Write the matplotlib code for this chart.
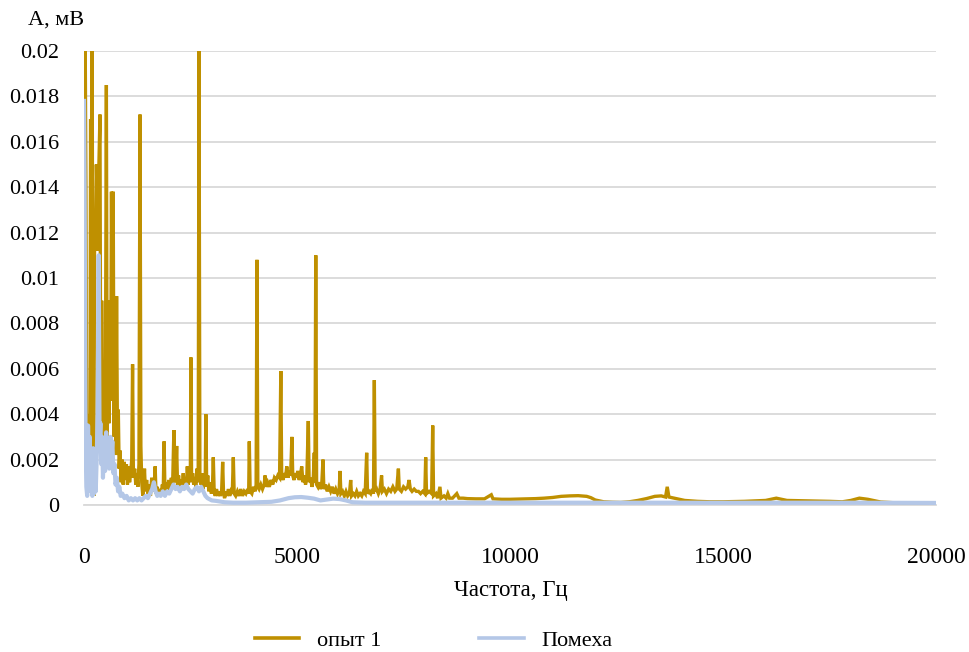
import matplotlib
matplotlib.use("Agg")
import matplotlib.pyplot as plt
from matplotlib.lines import Line2D

# ---- spectrum data ----
freq_exp = [
    0, 25, 45, 60, 80, 100, 120, 140, 155, 170, 190, 210, 230, 250, 270, 290, 310, 330, 350,
    375, 395, 415, 430, 445, 465, 485, 505, 525, 545, 565, 585, 605, 625, 645, 665, 685, 705,
    725, 745, 765, 785, 805, 825, 845, 870, 895, 920, 945, 970, 995, 1020, 1045, 1070, 1095,
    1120, 1140, 1160, 1190, 1215, 1240, 1265, 1290, 1315, 1335, 1355, 1380, 1400, 1420, 1440,
    1470, 1500, 1530, 1560, 1590, 1620, 1650, 1670, 1690, 1720, 1750, 1780, 1810, 1840, 1860,
    1880, 1900, 1930, 1960, 1990, 2020, 2050, 2080, 2110, 2130, 2155, 2175, 2195, 2220, 2250,
    2280, 2310, 2330, 2350, 2380, 2405, 2425, 2445, 2470, 2495, 2510, 2525, 2550, 2575, 2600,
    2625, 2650, 2680, 2700, 2720, 2745, 2770, 2795, 2820, 2845, 2860, 2880, 2905, 2930, 2960,
    2990, 3015, 3035, 3055, 3080, 3110, 3140, 3170, 3200, 3230, 3255, 3275, 3300, 3330, 3360,
    3390, 3420, 3450, 3480, 3505, 3525, 3560, 3600, 3640, 3680, 3720, 3760, 3800, 3840, 3865,
    3880, 3900, 3940, 3980, 4020, 4040, 4060, 4080, 4110, 4150, 4190, 4230, 4250, 4270, 4310,
    4350, 4390, 4430, 4470, 4510, 4550, 4590, 4620, 4640, 4670, 4700, 4730, 4760, 4790, 4820,
    4850, 4880, 4900, 4930, 4960, 4990, 5020, 5050, 5080, 5110, 5140, 5170, 5200, 5230, 5265,
    5285, 5320, 5350, 5380, 5405, 5420, 5440, 5460, 5490, 5520, 5550, 5580, 5610, 5630, 5670,
    5710, 5750, 5790, 5830, 5870, 5910, 5950, 5990, 6010, 6030, 6070, 6110, 6150, 6190, 6230,
    6260, 6280, 6320, 6360, 6400, 6440, 6480, 6520, 6560, 6600, 6635, 6655, 6690, 6730, 6770,
    6795, 6815, 6835, 6870, 6910, 6950, 6985, 7005, 7050, 7100, 7150, 7200, 7250, 7300, 7340,
    7380, 7400, 7450, 7500, 7550, 7600, 7630, 7660, 7700, 7750, 7800, 7850, 7900, 7950, 8000,
    8020, 8040, 8100, 8160, 8185, 8205, 8260, 8300, 8355, 8380, 8450, 8500, 8540, 8580, 8650,
    8750, 8800, 8900, 9000, 9200, 9400, 9560, 9600, 9800, 10000, 10200, 10400, 10600, 10800,
    11000, 11200, 11400, 11600, 11800, 11900, 12000, 12200, 12400, 12600, 12800, 13000, 13200,
    13400, 13550, 13650, 13690, 13730, 13900, 14100, 14400, 14700, 15000, 15500, 16000, 16250,
    16500, 17000, 17500, 17800, 18000, 18200, 18400, 18700, 19000, 19500, 20000,
]
amp_exp = [
    0.0179, 0.0215, 0.0142, 0.0036, 0.0040, 0.0028, 0.0006, 0.0030, 0.0170, 0.0008, 0.0215,
    0.0035, 0.0004, 0.0130, 0.0118, 0.0150, 0.0135, 0.0112, 0.0150, 0.0172, 0.0020, 0.0090,
    0.0048, 0.0012, 0.0056, 0.0030, 0.0065, 0.0185, 0.0026, 0.0080, 0.0036, 0.0090, 0.0046,
    0.0138, 0.0062, 0.0138, 0.0030, 0.0072, 0.0022, 0.0092, 0.0030, 0.0042, 0.0016, 0.0024,
    0.0010, 0.0020, 0.0009, 0.0019, 0.0011, 0.0018, 0.0009, 0.0017, 0.0010, 0.0014, 0.0020,
    0.0062, 0.0012, 0.0016, 0.0009, 0.0014, 0.0008, 0.0018, 0.0172, 0.0026, 0.0010, 0.0004,
    0.0008, 0.0016, 0.0006, 0.0011, 0.0005, 0.0009, 0.0004, 0.0012, 0.0006, 0.0009, 0.0017,
    0.0005, 0.0008, 0.0004, 0.0007, 0.0005, 0.0009, 0.0006, 0.0028, 0.0006, 0.0010, 0.0007,
    0.0011, 0.0006, 0.0012, 0.0009, 0.0033, 0.0010, 0.0014, 0.0026, 0.0009, 0.0013, 0.0008,
    0.0011, 0.0009, 0.0014, 0.0008, 0.0012, 0.0008, 0.0017, 0.0009, 0.0013, 0.0010, 0.0065,
    0.0011, 0.0014, 0.0009, 0.0012, 0.0008, 0.0016, 0.0010, 0.0200, 0.0012, 0.0009, 0.0014,
    0.0007, 0.0012, 0.0009, 0.0040, 0.0008, 0.0013, 0.0006, 0.0010, 0.0005, 0.0008, 0.0021,
    0.0006, 0.0004, 0.0007, 0.0004, 0.0006, 0.0004, 0.0006, 0.0019, 0.0005, 0.0003, 0.0006,
    0.0004, 0.0007, 0.0004, 0.0006, 0.0005, 0.0021, 0.0005, 0.0004, 0.0006, 0.0004, 0.0007,
    0.0004, 0.0006, 0.0005, 0.0007, 0.0005, 0.0028, 0.0006, 0.0005, 0.0008, 0.0006, 0.0009,
    0.0108, 0.0008, 0.0007, 0.0009, 0.0007, 0.0009, 0.0013, 0.0008, 0.0010, 0.0008, 0.0011,
    0.0009, 0.0012, 0.0011, 0.0013, 0.0012, 0.0059, 0.0013, 0.0011, 0.0014, 0.0012, 0.0017,
    0.0012, 0.0015, 0.0013, 0.0030, 0.0013, 0.0011, 0.0014, 0.0012, 0.0015, 0.0011, 0.0013,
    0.0017, 0.0010, 0.0013, 0.0009, 0.0012, 0.0037, 0.0010, 0.0012, 0.0008, 0.0011, 0.0023,
    0.0010, 0.0110, 0.0009, 0.0008, 0.0010, 0.0007, 0.0009, 0.0020, 0.0007, 0.0009, 0.0006,
    0.0008, 0.0006, 0.0008, 0.0005, 0.0007, 0.0005, 0.0007, 0.0015, 0.0005, 0.0006, 0.0004,
    0.0006, 0.0004, 0.0005, 0.0011, 0.0004, 0.0005, 0.0004, 0.0006, 0.0004, 0.0005, 0.0004,
    0.0006, 0.0005, 0.0023, 0.0005, 0.0006, 0.0005, 0.0007, 0.0005, 0.0055, 0.0006, 0.0007,
    0.0005, 0.0007, 0.0013, 0.0006, 0.0007, 0.0005, 0.0007, 0.0006, 0.0008, 0.0006, 0.0007,
    0.0016, 0.0007, 0.0006, 0.0008, 0.0007, 0.0008, 0.0011, 0.0007, 0.0006, 0.0007, 0.0006,
    0.0006, 0.0005, 0.0006, 0.0005, 0.0021, 0.0005, 0.0006, 0.0005, 0.0035, 0.0004, 0.0005,
    0.0003, 0.0008, 0.0003, 0.0004, 0.0003, 0.0005, 0.0003, 0.0003, 0.0005, 0.0003, 0.0003,
    0.00028, 0.00027, 0.00027, 0.00045, 0.00027, 0.00025, 0.00025, 0.00026, 0.00027, 0.00028,
    0.0003, 0.00033, 0.00038, 0.0004, 0.00041, 0.00038, 0.00032, 0.00022, 0.00014, 0.00012,
    0.00011, 0.00014, 0.0002, 0.00028, 0.00038, 0.0004, 0.00035, 0.0008, 0.00035, 0.00028,
    0.0002, 0.00016, 0.00014, 0.00014, 0.00016, 0.0002, 0.0003, 0.0002, 0.00018, 0.00016,
    0.00014, 0.0002, 0.0003, 0.00025, 0.00013, 0.0001, 0.0001, 0.0001,
]

freq_noise = [
    0, 15, 35, 55, 75, 95, 115, 135, 155, 175, 195, 215, 235, 255, 275, 300, 320, 345, 365,
    385, 405, 425, 445, 470, 495, 520, 545, 570, 595, 620, 645, 665, 690, 715, 740, 770, 800,
    830, 860, 900, 950, 1000, 1050, 1100, 1150, 1200, 1250, 1300, 1350, 1400, 1450, 1500,
    1550, 1600, 1640, 1680, 1720, 1760, 1800, 1850, 1900, 1950, 2000, 2050, 2100, 2150, 2200,
    2250, 2300, 2350, 2400, 2450, 2500, 2550, 2600, 2650, 2700, 2750, 2800, 2850, 2900, 3000,
    3100, 3300, 3500, 3800, 4100, 4400, 4600, 4800, 4950, 5100, 5250, 5400, 5550, 5700, 5850,
    6000, 6150, 6300, 6600, 7000, 8000, 9000, 10000, 12000, 14000, 16000, 18000, 20000,
]
amp_noise = [
    0.0178, 0.0140, 0.0031, 0.0008, 0.0004, 0.0035, 0.0012, 0.0030, 0.0006, 0.0020, 0.0004,
    0.0025, 0.0005, 0.0016, 0.0006, 0.0022, 0.0040, 0.0110, 0.0028, 0.0036, 0.0018, 0.0030,
    0.0012, 0.0026, 0.0015, 0.0032, 0.0018, 0.0027, 0.0016, 0.0030, 0.0022, 0.0028, 0.0014,
    0.0018, 0.0009, 0.0012, 0.0006, 0.0008, 0.0004, 0.0005, 0.0003, 0.0004, 0.0002, 0.0003,
    0.0002, 0.0003, 0.0002, 0.0003, 0.0002, 0.0003, 0.0004, 0.0003, 0.0005, 0.0007, 0.0010,
    0.0006, 0.0004, 0.0005, 0.0004, 0.0006, 0.0004, 0.0006, 0.0005, 0.0007, 0.0009, 0.0007,
    0.0008, 0.0006, 0.0008, 0.0007, 0.0009, 0.0007, 0.0006, 0.0005, 0.0007, 0.0008, 0.0006,
    0.0008, 0.0006, 0.0004, 0.0003, 0.0002, 0.00018, 0.00012, 0.0001, 0.0001, 0.00012,
    0.00014, 0.0002, 0.0003, 0.00034, 0.00035, 0.00032, 0.00028, 0.0002, 0.00024, 0.00028,
    0.00026, 0.0002, 0.00012, 0.0001, 0.0001, 0.0001, 0.0001, 0.0001, 0.0001, 0.0001, 0.0001,
    0.0001, 0.00009,
]

series_labels = ["опыт 1", "Помеха"]
x_ticks = [0, 5000, 10000, 15000, 20000]
y_ticks = [0, 0.002, 0.004, 0.006, 0.008, 0.01, 0.012, 0.014, 0.016, 0.018, 0.02]
y_tick_labels = ["0", "0.002", "0.004", "0.006", "0.008", "0.01", "0.012",
                 "0.014", "0.016", "0.018", "0.02"]

# ---- styling ----
plt.rcParams["font.family"] = ["Liberation Serif", "DejaVu Serif"]
color_exp = "#BF9000"
color_noise = "#B4C7E7"
grid_color = "#D9D9D9"
text_color = "#000000"

fig = plt.figure(figsize=(9.7, 6.52), dpi=100)
ax = fig.add_axes([0.0866, 0.2255, 0.8784, 0.6963])

ax.plot(freq_exp, amp_exp, color=color_exp, lw=2.4, solid_joinstyle="miter", zorder=3)
ax.plot(freq_noise, amp_noise, color=color_noise, lw=3.0, zorder=4)

ax.set_xlim(0, 20000)
ax.set_ylim(0, 0.02)
ax.set_xticks(x_ticks)
ax.set_xticklabels([str(t) for t in x_ticks])
ax.set_yticks(y_ticks)
ax.set_yticklabels(y_tick_labels)

ax.tick_params(axis="both", length=0, colors=text_color, labelsize=16)
ax.tick_params(axis="y", pad=18)
ax.tick_params(axis="x", pad=30, labelsize=17)

ax.grid(axis="y", color=grid_color, lw=1.3, zorder=0)
ax.grid(axis="x", visible=False)
for side in ("top", "right", "left"):
    ax.spines[side].set_visible(False)
ax.spines["bottom"].set_color(grid_color)
ax.spines["bottom"].set_linewidth(1.3)
ax.set_axisbelow(True)

fig.text(0.029, 0.969, "А, мВ", fontsize=16, ha="left", va="center", color=text_color)
fig.text(0.527, 0.095, "Частота, Гц", fontsize=16.5, ha="center", va="center", color=text_color)

handles = [Line2D([], [], color=color_exp, lw=2.6),
           Line2D([], [], color=color_noise, lw=2.6)]
fig.legend(handles, series_labels, loc="center", bbox_to_anchor=(0.447, 0.017),
           ncol=2, frameon=False, fontsize=16, handlelength=2.0,
           handletextpad=0.8, columnspacing=4.4)

fig.savefig("out.png", dpi=100, facecolor="white")
